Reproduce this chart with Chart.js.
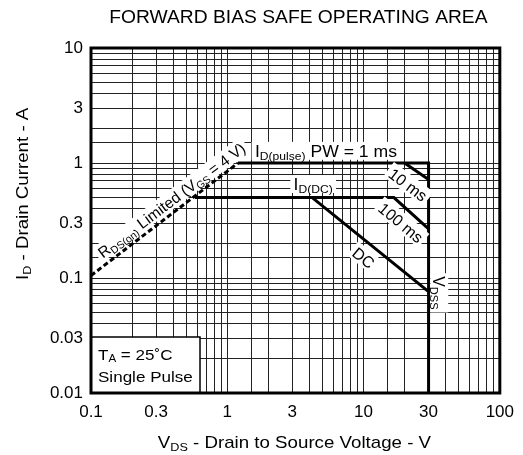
<!DOCTYPE html>
<html>
<head>
<meta charset="utf-8">
<script src="https://cdn.jsdelivr.net/npm/chart.js"></script>
<style>
  body { margin: 0; background: #fff; }
  canvas { display: block; }
</style>
</head>
<body>
<canvas id="soaChart" width="523" height="455"></canvas>
<script>
// tick labels shown on the log axes
const xTickLabels = [0.1, 0.3, 1, 3, 10, 30, 100];
const yTickLabels = [0.01, 0.03, 0.1, 0.3, 1, 3, 10];

// boundary lines, VDS (V) / ID (A)
const rdsV = [0.1, 1.2];
const rdsI = [0.105, 1];
const pulseV = [1.2, 30, 30];      // PW = 1 ms + VDSS limit
const pulseI = [1, 1, 0.01];
const ms10V = [20, 30];
const ms10I = [1, 0.72];
const ms100V = [0.58, 16.7, 30];   // ID(DC) level, then 100 ms
const ms100I = [0.5, 0.5, 0.267];
const dcV = [4.2, 30];
const dcI = [0.5, 0.076];

const FONT = '"Liberation Sans", Arial, sans-serif';
const STRETCH = 1.1;

function pts(xs, ys) {
  return xs.map((x, i) => ({ x: x, y: ys[i] }));
}

function line(xs, ys, dash) {
  return {
    data: pts(xs, ys),
    showLine: true,
    borderColor: '#000',
    borderWidth: 3,
    borderDash: dash || [],
    pointRadius: 0,
    fill: false,
    tension: 0
  };
}

function isLabel(v, list) {
  return list.some(t => Math.abs(v - t) / t < 1e-6);
}

// text with subscripts: parts = [[text, size, dy], ...]
function textWidth(ctx, parts) {
  let w = 0;
  parts.forEach(p => {
    ctx.font = p[1] + 'px ' + FONT;
    w += ctx.measureText(p[0]).width;
  });
  return w;
}

function drawRich(ctx, parts, x, y, angle, sx, bg, align) {
  const base = parts[0][1];
  ctx.save();
  ctx.translate(x, y);
  ctx.rotate(angle * Math.PI / 180);
  ctx.scale(sx, 1);
  const w = textWidth(ctx, parts);
  let left = align === 'left' ? 0 : -w / 2;
  if (bg) {
    ctx.fillStyle = '#fff';
    ctx.fillRect(left - 3, -base * 0.6, w + 6, base * 1.12);
  }
  ctx.fillStyle = '#000';
  ctx.textBaseline = 'alphabetic';
  ctx.textAlign = 'left';
  parts.forEach(p => {
    ctx.font = p[1] + 'px ' + FONT;
    ctx.fillText(p[0], left, base * 0.36 + (p[2] || 0));
    left += ctx.measureText(p[0]).width;
  });
  ctx.restore();
}

// labels placed at data coordinates
const notes = [
  { parts: [['I', 16], ['D(pulse)', 11, 3], [' PW = 1 ms', 16]], x: 5.3, y: 1.26, angle: 0, sx: STRETCH },
  { parts: [['I', 16], ['D(DC)', 11, 3]], x: 4.27, y: 0.648, angle: 0, sx: STRETCH },
  { parts: [['10 ms', 16]], x: 21.2, y: 0.648, angle: 37, sx: 1 },
  { parts: [['100 ms', 16]], x: 18.8, y: 0.303, angle: 40, sx: 1 },
  { parts: [['DC', 16]], x: 10.0, y: 0.150, angle: 39, sx: 1 },
  { parts: [['V', 16], ['DSS', 11, 3]], x: 35.6, y: 0.0743, angle: 90, sx: 1 },
  { parts: [['R', 15.5], ['DS(on)', 10.5, 3], [' Limited (V', 15.5], ['GS', 10.5, 3], [' = 4 V)', 15.5]], x: 0.39, y: 0.475, angle: -37, sx: 1 }
];

const overlay = {
  id: 'overlay',
  afterDatasetsDraw(chart) {
    const ctx = chart.ctx;
    const a = chart.chartArea;
    const xs = chart.scales.x, ys = chart.scales.y;

    notes.forEach(n => {
      drawRich(ctx, n.parts, xs.getPixelForValue(n.x), ys.getPixelForValue(n.y), n.angle, n.sx, true);
    });

    // conditions box, bottom left
    ctx.save();
    ctx.fillStyle = '#fff';
    ctx.fillRect(a.left, a.bottom - 56, 109, 56);
    ctx.strokeStyle = '#000';
    ctx.lineWidth = 1.5;
    ctx.strokeRect(a.left, a.bottom - 56, 109, 56);
    ctx.restore();
    drawRich(ctx, [['T', 15.5], ['A', 10.5, 2], [' = 25˚C', 15.5]], a.left + 7, a.bottom - 39, 0, STRETCH, false, 'left');
    drawRich(ctx, [['Single Pulse', 15.5]], a.left + 7, a.bottom - 17, 0, STRETCH, false, 'left');

    // frame
    ctx.save();
    ctx.strokeStyle = '#000';
    ctx.lineWidth = 3;
    ctx.strokeRect(a.left, a.top, a.right - a.left, a.bottom - a.top);
    ctx.restore();

    // titles
    const cx = (a.left + a.right) / 2;
    drawRich(ctx, [['FORWARD BIAS SAFE OPERATING AREA', 17.5]], cx + 3, 17, 0, STRETCH, false);
    drawRich(ctx, [['V', 17], ['DS', 11.5, 3], [' - Drain to Source Voltage - V', 17]], cx - 1, 442, 0, STRETCH, false);
    const yParts = [['I', 17], ['D', 11.5, 3], [' - Drain Current - A', 17]];
    ctx.save();
    const yw = textWidth(ctx, yParts) * STRETCH;
    ctx.restore();
    drawRich(ctx, yParts, 22, 280 - yw / 2, -90, STRETCH, false);
  }
};

new Chart(document.getElementById('soaChart'), {
  type: 'scatter',
  data: {
    datasets: [
      line(rdsV, rdsI, [5, 3]),
      line(pulseV, pulseI),
      line(ms10V, ms10I),
      line(ms100V, ms100I),
      line(dcV, dcI)
    ]
  },
  options: {
    responsive: false,
    animation: false,
    devicePixelRatio: 1,
    layout: { padding: { top: 48, right: 18, left: 0, bottom: 0 } },
    plugins: { legend: { display: false }, tooltip: { enabled: false } },
    scales: {
      x: {
        type: 'logarithmic',
        min: 0.1,
        max: 100,
        afterFit: s => { s.height = 62; },
        border: { display: false },
        grid: { color: '#222', lineWidth: 1, drawTicks: false },
        ticks: {
          autoSkip: false,
          maxRotation: 0,
          padding: 9,
          color: '#000',
          font: { size: 17, family: FONT },
          callback: v => isLabel(v, xTickLabels) ? String(v) : ''
        }
      },
      y: {
        type: 'logarithmic',
        min: 0.01,
        max: 10,
        afterFit: s => { s.width = 91; },
        border: { display: false },
        grid: { color: '#222', lineWidth: 1, drawTicks: false },
        ticks: {
          autoSkip: false,
          padding: 8,
          color: '#000',
          font: { size: 17, family: FONT },
          callback: v => isLabel(v, yTickLabels) ? String(v) : ''
        }
      }
    }
  },
  plugins: [overlay]
});
</script>
</body>
</html>
